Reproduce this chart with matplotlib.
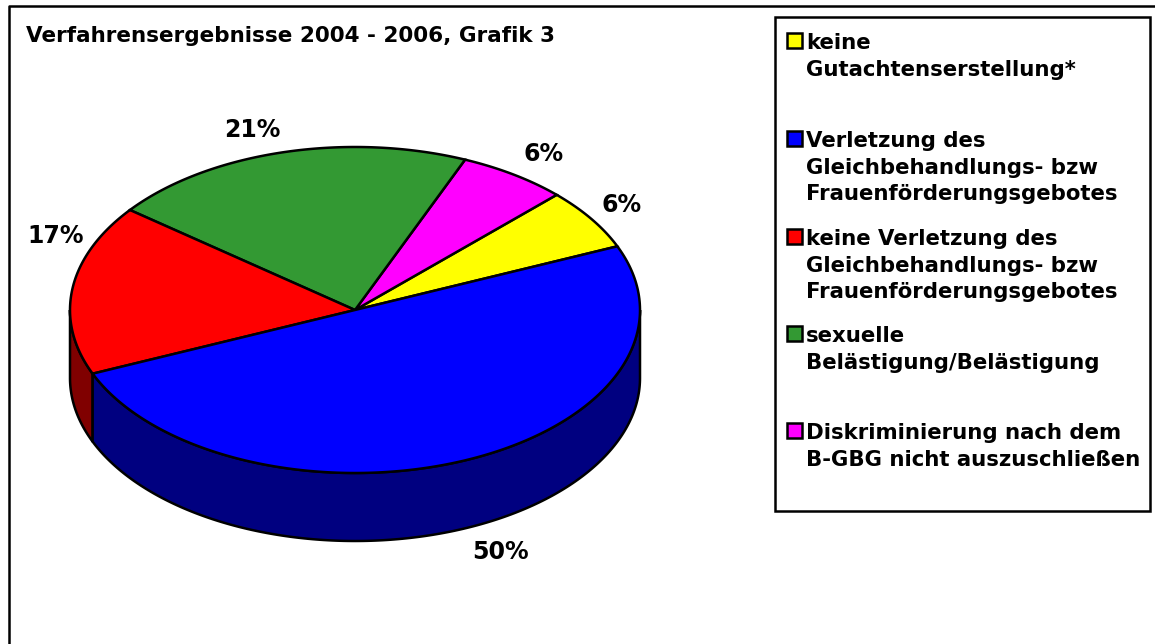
import numpy as np
import matplotlib
matplotlib.use('Agg')
import matplotlib.pyplot as plt
from matplotlib.patches import Rectangle

categories = [['keine', 'Gutachtenserstellung*'],
              ['Verletzung des', 'Gleichbehandlungs- bzw', 'Frauenförderungsgebotes'],
              ['keine Verletzung des', 'Gleichbehandlungs- bzw', 'Frauenförderungsgebotes'],
              ['sexuelle', 'Belästigung/Belästigung'],
              ['Diskriminierung nach dem', 'B-GBG nicht auszuschließen']]
# slice sizes as measured on the picture, the labels are the rounded ones
values = [6.1, 50.0, 16.9, 20.8, 6.2]
pct_labels = ['6%', '50%', '17%', '21%', '6%']
# drawing order around the pie, counter clockwise from the right
pie_order = [0, 4, 3, 2, 1]
colors = ['#FFFF00', '#0000FF', '#FF0000', '#339933', '#FF00FF']
dark_colors = ['#808000', '#000080', '#800000', '#1A4D1A', '#800080']
label_pos = [(622, 205), (501, 552), (55.5, 236), (252.5, 130), (544, 154)]
legend_y = [49, 147, 245, 342, 439]

plt.rcParams['font.family'] = ['DejaVu Sans']
plt.rcParams['font.weight'] = 'bold'
fig = plt.figure(figsize=(11.55, 6.44), dpi=100)
ax = fig.add_axes([0, 0, 1, 1])
ax.set_xlim(0, 1155)
ax.set_ylim(644, 0)
ax.axis('off')

ax.plot([9, 9, 1155], [644, 5.5, 5.5], color='k', lw=1.8)

cx, cy, rx, ry, depth = 355, 310, 285, 163, 68
start = 23.0
angles = start + np.cumsum([0] + [values[i] for i in pie_order]) / sum(values) * 360


def ell(t, dy=0):
    t = np.radians(t)
    return cx + rx * np.cos(t), cy - ry * np.sin(t) + dy


# side wall, only the front half of the rim shows
for n, i in enumerate(pie_order):
    a, b = angles[n], angles[n + 1]
    lo, hi = max(a, 180), min(b, 360)
    if i == 1:
        lo, hi = a, 360
    if lo >= hi:
        continue
    t = np.linspace(lo, hi, 200)
    x, y = ell(t)
    x2, y2 = ell(t[::-1], depth)
    ax.fill(np.r_[x, x2], np.r_[y, y2], facecolor=dark_colors[i], edgecolor='k', lw=1.8, zorder=2)

# top face
for n, i in enumerate(pie_order):
    t = np.linspace(angles[n], angles[n + 1], 200)
    x, y = ell(t)
    ax.fill(np.r_[cx, x], np.r_[cy, y], facecolor=colors[i], edgecolor='k', lw=1.8, zorder=3)

for i, (px, py) in enumerate(label_pos):
    ax.text(px, py, pct_labels[i], fontsize=17, ha='center', va='center')

ax.text(26, 36, 'Verfahrensergebnisse 2004 - 2006, Grafik 3', fontsize=15.5, va='center')

# legend box
ax.add_patch(Rectangle((775, 17), 375, 494, facecolor='w', edgecolor='k', lw=1.8, zorder=1))
for i, y in enumerate(legend_y):
    ax.add_patch(Rectangle((786.5, y - 16), 15, 15, facecolor=colors[i], edgecolor='k', lw=1.8))
    for k, line in enumerate(categories[i]):
        ax.text(806, y + 26.5 * k, line, fontsize=15.35, va='baseline')

fig.savefig('out.png', dpi=100)
